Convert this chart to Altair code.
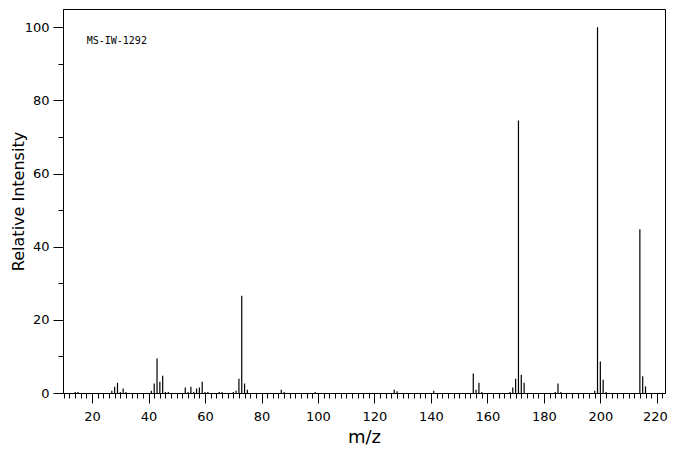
import altair as alt
import pandas as pd

mz = [14, 15, 27, 28, 29, 30, 31, 32, 41, 42, 43, 44, 45, 46, 47,
      53, 54, 55, 56, 57, 58, 59, 60, 61, 65, 66, 70, 71, 72, 73, 74, 75,
      87, 88, 99, 127, 128, 141, 155, 156, 157, 158, 168, 169, 170, 171,
      172, 173, 184, 185, 186, 198, 199, 200, 201, 202, 214, 215, 216]
intensity = [0.3, 0.3, 0.6, 1.7, 2.8, 0.3, 1.2, 0.3, 0.6, 2.6, 9.4, 3.1, 4.7, 0.3, 0.3,
             1.5, 0.3, 1.7, 0.3, 1.2, 1.5, 3.1, 0.3, 0.3, 0.3, 0.3, 0.3, 0.6, 3.9, 26.6, 2.6, 0.9,
             0.9, 0.3, 0.3, 0.9, 0.5, 0.6, 5.3, 0.9, 2.8, 0.3, 0.3, 1.5, 3.9, 74.5,
             5.0, 2.8, 0.3, 2.6, 0.3, 0.6, 100.0, 8.6, 3.6, 0.3, 44.8, 4.6, 1.8]

x_major = list(range(20, 221, 20))
x_minor = list(range(10, 223, 2))
y_major = list(range(0, 101, 20))
y_minor = list(range(0, 101, 10))
label_text = ["MS-IW-1292"]

df = pd.DataFrame({"mz": mz, "intensity": intensity})

xscale = alt.Scale(domain=[9.7, 222.9], nice=False, zero=False)
yscale = alt.Scale(domain=[0, 105], nice=False)

font = "DejaVu Sans"

main = alt.Chart(df).mark_rule(color="black", strokeWidth=1.2).encode(
    x=alt.X("mz:Q", scale=xscale,
            axis=alt.Axis(orient="bottom", values=x_major, tickSize=10, labelPadding=7,
                          labelOffset={"condition": {"test": "datum.value == 220", "value": -2}, "value": 0},
                          title="m/z", titleFontSize=18, titleFont=font,
                          titleFontWeight="normal", titleBaseline="alphabetic",
                          titleY=49, labelFont=font, labelFontSize=13,
                          grid=False, labelFlush=False, labelOverlap=False)),
    y=alt.Y("intensity:Q", scale=yscale,
            axis=alt.Axis(orient="left", values=y_major, tickSize=10, labelPadding=4,
                          title="Relative Intensity", titleFontSize=16, titleFont=font,
                          titleFontWeight="normal", titleBaseline="alphabetic",
                          titleX=-40, titleY=192, titleAngle=270,
                          labelFont=font, labelFontSize=13, grid=False,
                          labelFlush=False, labelOverlap=False)),
    y2=alt.datum(0),
)

minor = alt.Chart(df).mark_rule(opacity=0).encode(
    x=alt.X("mz:Q", scale=xscale,
            axis=alt.Axis(orient="bottom", values=x_minor, tickSize=5, labels=False,
                          domain=False, title=None, grid=False)),
    y=alt.Y("intensity:Q", scale=yscale,
            axis=alt.Axis(orient="left", values=y_minor, tickSize=5, labels=False,
                          domain=False, title=None, grid=False)),
)

label = alt.Chart(pd.DataFrame({"t": label_text})).mark_text(
    font="DejaVu Sans Mono", fontSize=10, align="left", baseline="alphabetic", color="black"
).encode(x=alt.value(23.7), y=alt.value(35.3), text="t:N")

chart = alt.layer(main, minor, label).resolve_axis(x="independent", y="independent").properties(
    width=602, height=384,
    autosize=alt.AutoSizeParams(type="none"),
    padding={"left": 55, "top": 1, "right": 3, "bottom": 54},
).configure_view(stroke="black", strokeWidth=1).configure_axis(
    domainColor="black", tickColor="black", labelColor="black", titleColor="black",
    domainWidth=1, tickWidth=1
)

chart.save("out.html", embed_options={"renderer": "svg", "actions": False})
